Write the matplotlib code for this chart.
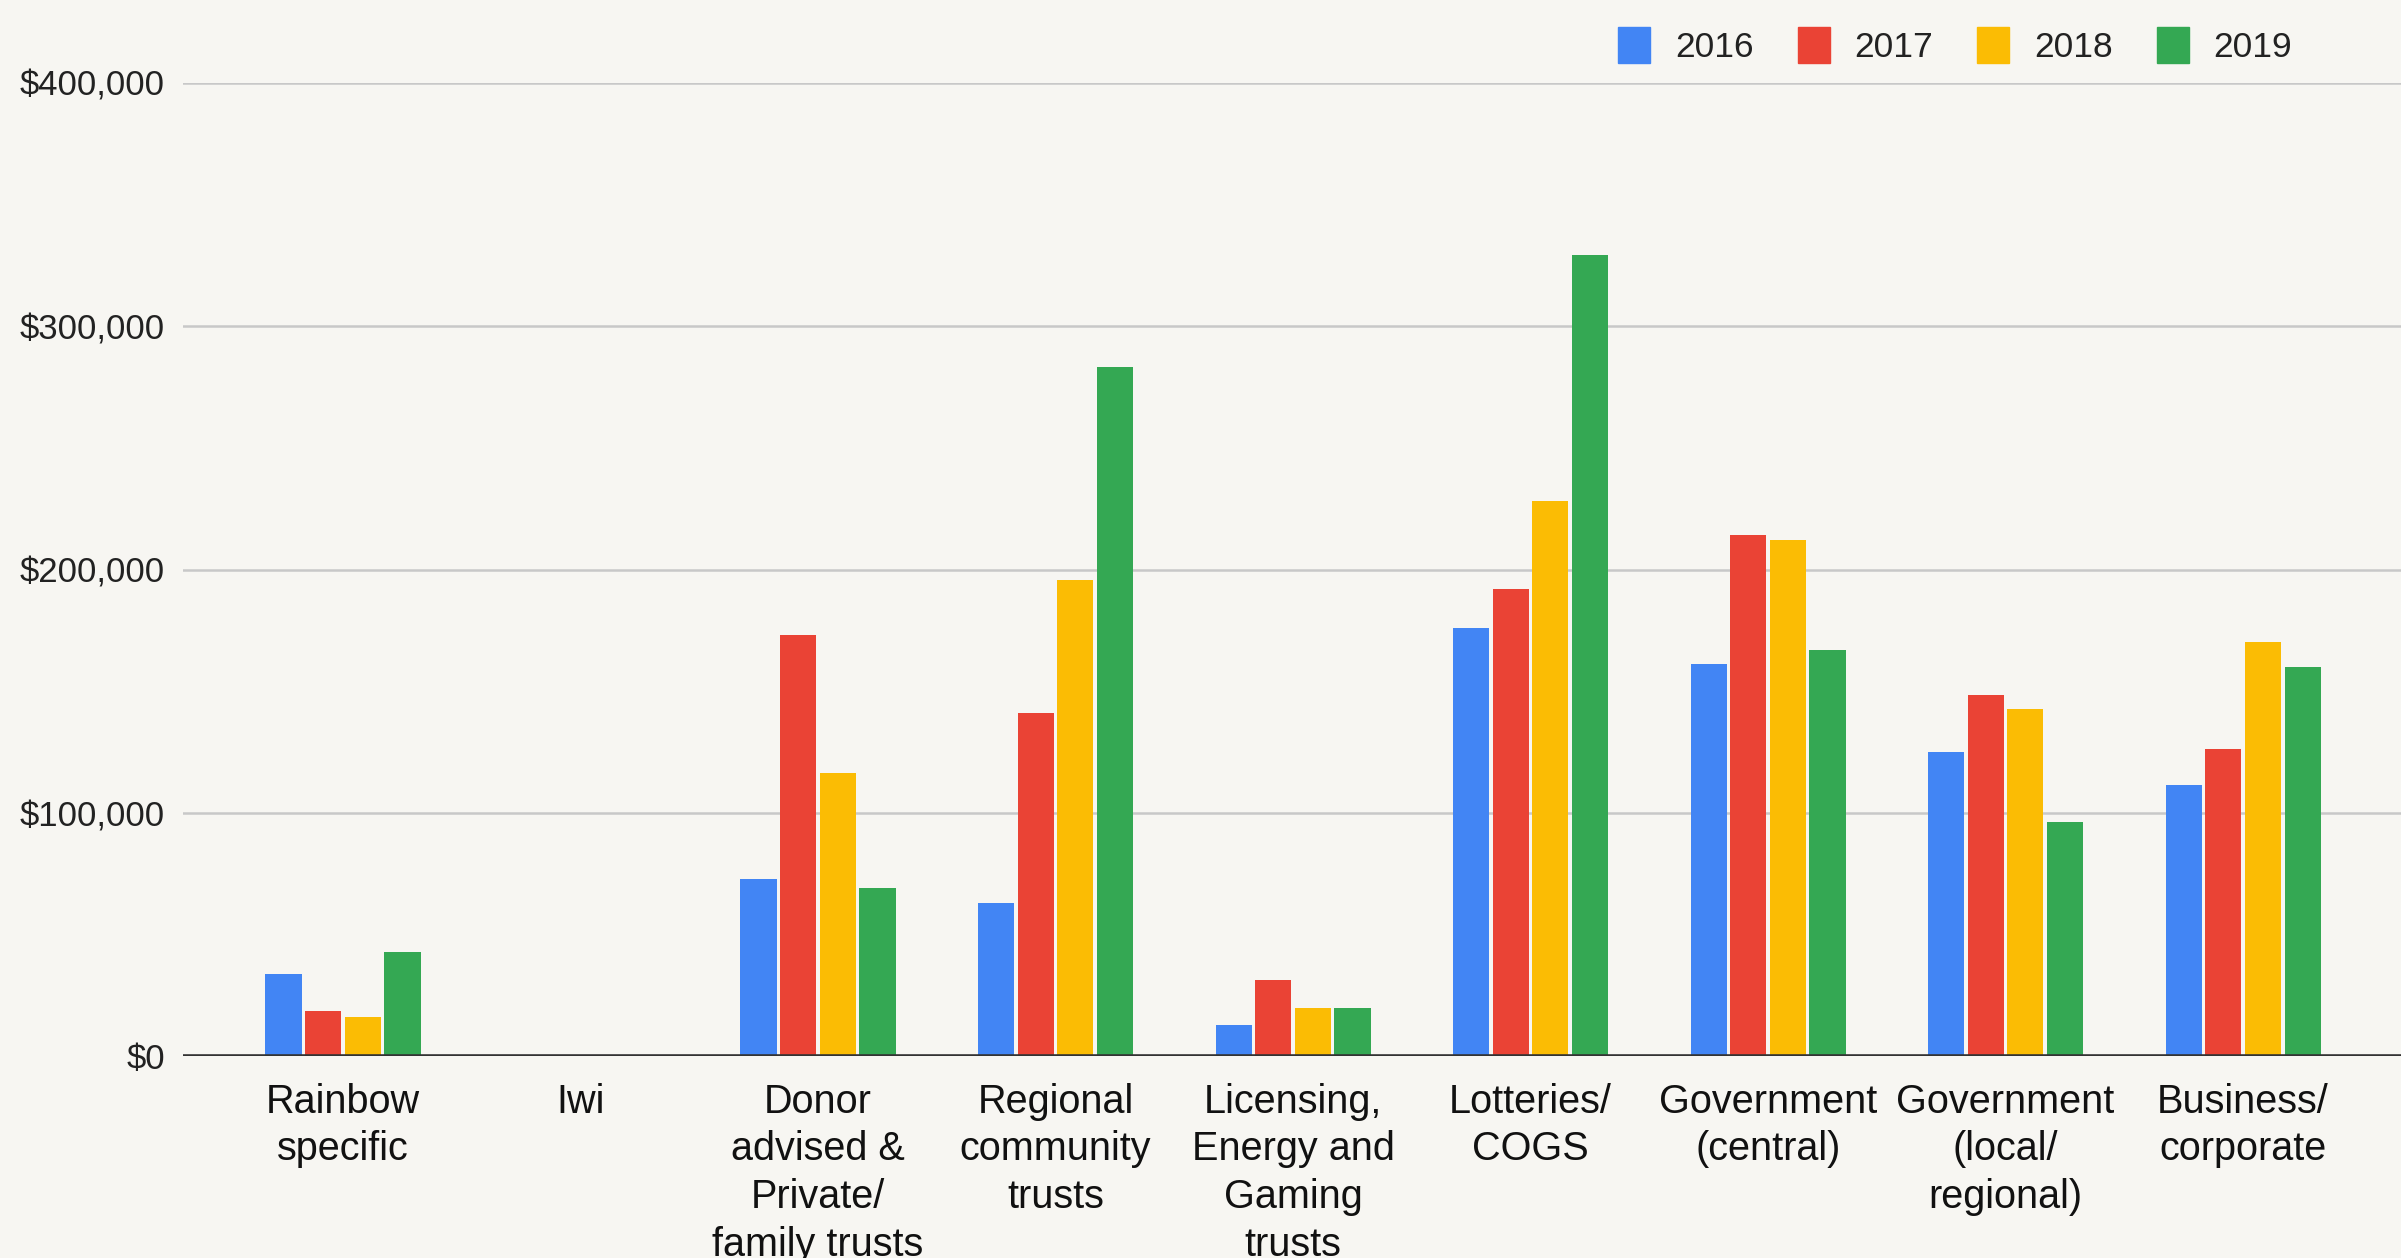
import matplotlib
import numpy as np

matplotlib.use("Agg")
import matplotlib.pyplot as plt  # noqa: E402
from matplotlib.patches import Patch  # noqa: E402
from matplotlib.ticker import FuncFormatter  # noqa: E402

plt.rcParams["font.family"] = ["Liberation Sans", "DejaVu Sans"]

categories = [
    "Rainbow\nspecific",
    "Iwi",
    "Donor\nadvised &\nPrivate/\nfamily trusts",
    "Regional\ncommunity\ntrusts",
    "Licensing,\nEnergy and\nGaming\ntrusts",
    "Lotteries/\nCOGS",
    "Government\n(central)",
    "Government\n(local/\nregional)",
    "Business/\ncorporate",
]
years = ["2016", "2017", "2018", "2019"]
funding_2016 = [33700, 0, 73000, 63100, 13100, 175900, 161100, 125200, 111500]
funding_2017 = [18600, 0, 173300, 141200, 31600, 192000, 214400, 148600, 126300]
funding_2018 = [16400, 0, 116600, 195600, 20100, 228300, 212200, 142700, 170300]
funding_2019 = [42800, 0, 69300, 283000, 20100, 329400, 167000, 96300, 160100]
colors = ["#4285f4", "#ea4335", "#fbbc04", "#34a853"]

BG = "#f7f6f2"

fig = plt.figure(figsize=(24.01, 12.58), dpi=100, facecolor=BG)
ax = fig.add_axes([0.0762, 0.1602, 0.9238, 0.7741], facecolor=BG)

x = np.arange(len(categories))
pitch, width = 0.167, 0.152
series = [funding_2016, funding_2017, funding_2018, funding_2019]
for j, (vals, col) in enumerate(zip(series, colors)):
    ax.bar(x + (j - 1.5) * pitch, vals, width=width, color=col, zorder=3)

ax.set_xlim(-0.674, 8.665)
ax.set_ylim(0, 400000)
ax.set_yticks([0, 100000, 200000, 300000, 400000])
ax.yaxis.set_major_formatter(FuncFormatter(lambda v, _: f"${v:,.0f}"))
ax.grid(axis="y", color="#c8c8c8", lw=1.8, zorder=0)
ax.axhline(0, color="#333333", lw=2.6, zorder=4)
for s in ax.spines.values():
    s.set_visible(False)

# the long labels run past the bottom edge of the figure on purpose
ax.set_xticks(x)
ax.set_xticklabels(categories, fontsize=28.5, color="#111111", va="top", linespacing=1.32)
ax.tick_params(axis="x", length=0, pad=19)
ax.tick_params(axis="y", length=0, pad=13, labelsize=25, labelcolor="#222222")

handles = [Patch(facecolor=c, edgecolor=c) for c in colors]
fig.legend(
    handles, years, ncol=4, loc="center right", bbox_to_anchor=(0.968, 0.964),
    frameon=False, fontsize=25.5, handlelength=0.9, handleheight=1.2,
    handletextpad=0.7, columnspacing=1.25, labelcolor="#222222",
)

fig.savefig("out.png", dpi=100, facecolor=BG)
